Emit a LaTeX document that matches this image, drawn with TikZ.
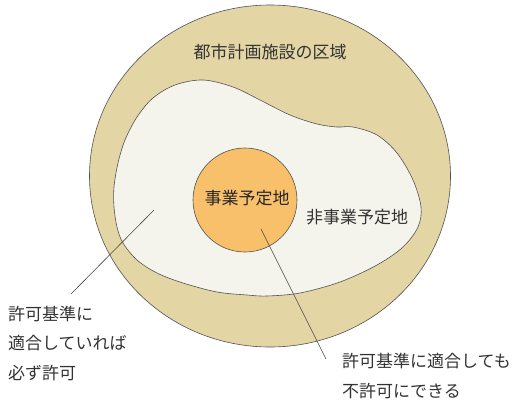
\documentclass[tikz,border=0pt]{standalone}
\usepackage{fontspec}
\setmainfont{Noto Sans CJK JP}
\definecolor{areatan}{HTML}{E4D5A5}
\definecolor{landcream}{HTML}{F4F4EC}
\definecolor{siteorange}{HTML}{F8C06A}
\definecolor{inkgray}{HTML}{333333}
\begin{document}
\begin{tikzpicture}[x=1pt,y=-1pt,
    area/.style={draw=inkgray!85, line width=0.6pt},
    labeltext/.style={text=inkgray, inner sep=0pt, align=left, font=\fontsize{17}{29.5}\selectfont},
    leader/.style={draw=inkgray!90, line width=0.6pt}]
    \useasboundingbox (0,0) rectangle (520,407);

    % Outer region: the planned facility area
    \draw[area, fill=areatan] (270,176) ellipse (180.5 and 171);

    % Inner blob: land that is not a project site
    \draw[area, fill=landcream] plot[smooth cycle, tension=0.55] coordinates {
        (203,80) (233,87) (260,100) (290,115) (317,124) (337,127)
        (353,127) (377,135) (397,153) (413,180) (421,207) (418,227)
        (403,247) (377,265) (340,282) (300,293) (267,296) (247,295)
        (217,292) (183,283) (157,273) (137,260) (123,243) (117,227)
        (114,207) (114,187) (118,163) (125,140) (137,117) (153,98)
        (175,85)};

    % Project site circle
    \draw[area, fill=siteorange] (245,200) circle (52);

    % Region labels
    \node[labeltext] (areaname) at (270,52) {都市計画施設の区域};
    \node[labeltext, text=black!85] (sitename) at (247,198) {事業予定地};
    \node[labeltext] (nonsite) at (357,217) {非事業予定地};

    % Explanations below
    \node[labeltext, anchor=west] (mustallow) at (8,343) {許可基準に\\適合していれば\\必ず許可};
    \node[labeltext, anchor=west] (mayrefuse) at (342,376) {許可基準に適合しても\\不許可にできる};

    % Leader lines from each region to its explanation
    \coordinate (nonsitept) at (154,210);
    \coordinate (sitept) at (261,229);
    \coordinate (mustend) at (71,294);
    \coordinate (mayend) at (326,359);
    \draw[leader] (nonsitept) -- (mustend);
    \draw[leader] (sitept) -- (mayend);
\end{tikzpicture}
\end{document}
